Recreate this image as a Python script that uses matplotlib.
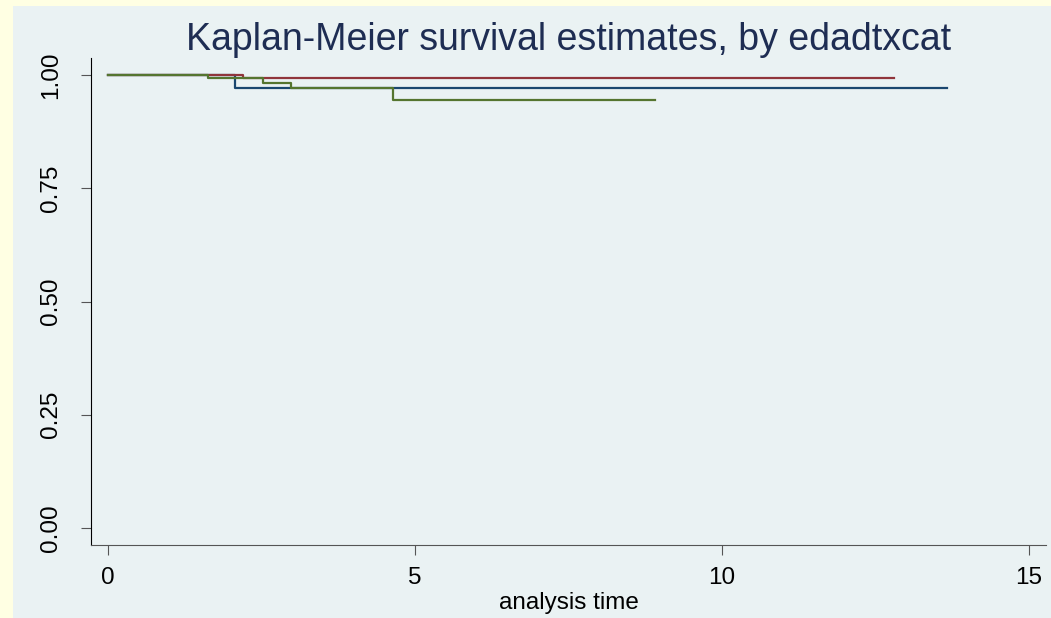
import matplotlib.pyplot as plt
from matplotlib.patches import Rectangle

# Kaplan-Meier step curves (time, survival)
t_grp1 = [0, 2.07, 13.67]
s_grp1 = [1.0, 0.972, 0.972]
t_grp2 = [0, 2.20, 12.80]
s_grp2 = [1.0, 0.9927, 0.9927]
t_grp3 = [0, 1.63, 2.53, 2.98, 4.65, 8.91]
s_grp3 = [1.0, 0.994, 0.982, 0.9705, 0.9455, 0.9455]

x_ticks = [0, 5, 10, 15]
y_ticks = [0.0, 0.25, 0.5, 0.75, 1.0]
y_ticklabels = ['0.00', '0.25', '0.50', '0.75', '1.00']

plt.rcParams['font.family'] = ['Liberation Sans', 'DejaVu Sans']

W, H = 1051, 618
fig = plt.figure(figsize=(W/100, H/100), dpi=100)
fig.patch.set_facecolor('#FFFFE3')
# inner plot region (Stata style), kept behind the axes
fig.patches.append(Rectangle((13/W, 0), 1, (H-6)/H, transform=fig.transFigure,
                             facecolor='#EAF2F3', edgecolor='none', zorder=-10))

ax = fig.add_axes([91/W, (H-545)/H, (1046-91)/W, (545-58)/H])
ax.set_facecolor('#EAF2F3')

ax.step(t_grp1, s_grp1, where='post', color='#1A476F', lw=1.6)
ax.step(t_grp2, s_grp2, where='post', color='#90353B', lw=1.6)
ax.step(t_grp3, s_grp3, where='post', color='#55752F', lw=1.6)

ax.set_xlim(-0.277, 15.28)
ax.set_ylim(-0.0375, 1.0375)
ax.set_xticks(x_ticks)
ax.set_yticks(y_ticks, y_ticklabels)
for lab in ax.get_yticklabels():
    lab.set_rotation(90)
    lab.set_va('center')

ax.spines['top'].set_visible(False)
ax.spines['right'].set_visible(False)
ax.spines['left'].set_color('black')
ax.spines['bottom'].set_color('#555555')
ax.tick_params(axis='both', length=7.2, width=0.8, color='#555555', labelsize=17.5)
ax.tick_params(axis='y', pad=13.5)
ax.tick_params(axis='x', pad=8.5)

ax.set_xlabel('analysis time', fontsize=17.5, labelpad=2)
ax.set_title('Kaplan-Meier survival estimates, by edadtxcat', fontsize=27,
             color='#1E2D53', pad=4)

fig.savefig('out.png', dpi=100, facecolor=fig.get_facecolor())
